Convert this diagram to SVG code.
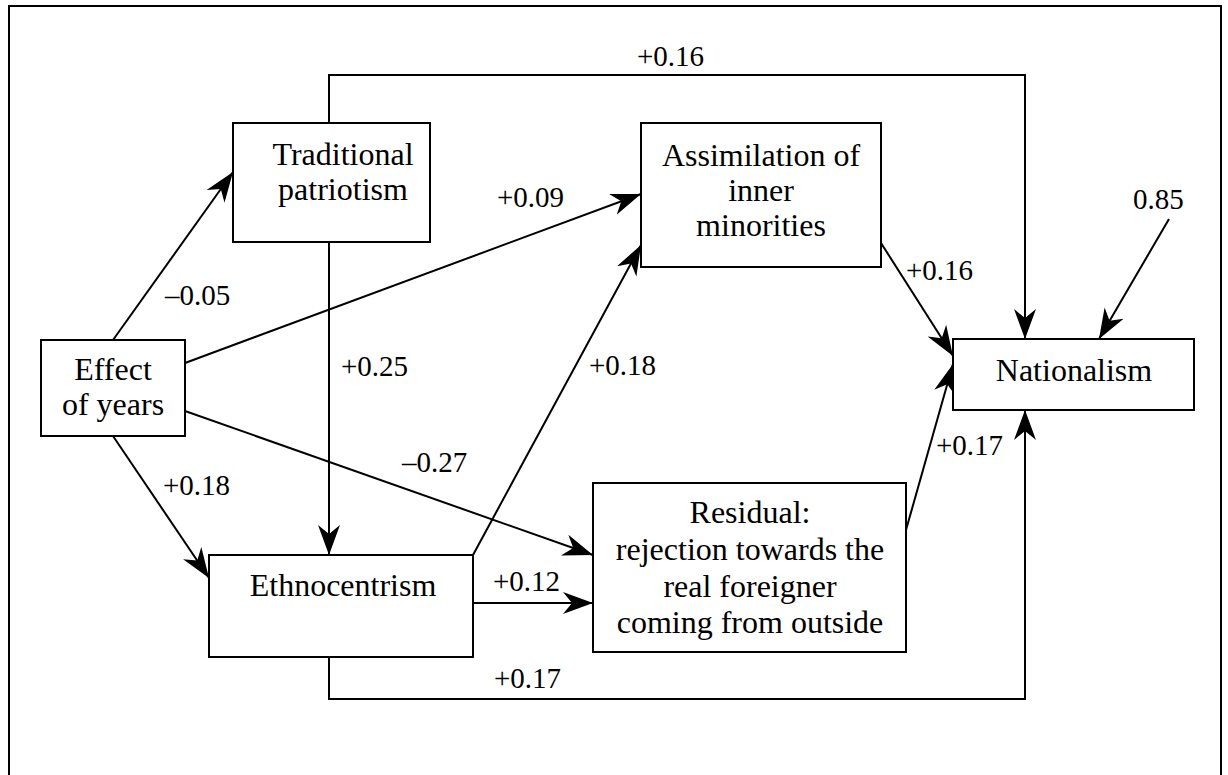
<svg xmlns="http://www.w3.org/2000/svg" width="1228" height="775" viewBox="0 0 1228 775">
<defs>
<marker id="ah" markerUnits="userSpaceOnUse" markerWidth="34" markerHeight="26" refX="30" refY="11" orient="auto" viewBox="0 0 34 22">
<path d="M30,11 L0,0 L9,11 L0,22 Z" fill="#000"/>
</marker>
<style>
.box{fill:#fff;stroke:#000;stroke-width:2}
text{font-family:'Liberation Serif','Times New Roman',serif;fill:#000}
.t{font-size:32px;text-anchor:middle}
.l{font-size:29px}
.c{fill:none;stroke:#000;stroke-width:2;marker-end:url(#ah)}
</style>
</defs>
<rect width="1228" height="775" fill="#fff"/>
<path d="M9,780 V6 H1221 V780" fill="none" stroke="#000" stroke-width="2"/>
<g id="connectors">
<line class="c" x1="113" y1="340" x2="233" y2="172"/>
<line class="c" x1="185" y1="363" x2="641" y2="194"/>
<line class="c" x1="185" y1="411" x2="593" y2="555"/>
<line class="c" x1="113" y1="436" x2="209" y2="578"/>
<line class="c" x1="329" y1="242" x2="329" y2="555"/>
<polyline class="c" points="329,123 329,75 1025,75 1025,339"/>
<line class="c" x1="473" y1="555" x2="641" y2="245"/>
<line class="c" x1="473" y1="603" x2="593" y2="603"/>
<polyline class="c" points="329,657 329,699 1025,699 1025,410"/>
<line class="c" x1="881" y1="243" x2="953" y2="356"/>
<line class="c" x1="906" y1="530" x2="953" y2="364"/>
<line class="c" x1="1169" y1="219" x2="1099" y2="339"/>
</g>
<g id="labels">
<text class="l" x="637" y="66">+0.16</text>
<text class="l" x="165" y="305">–0.05</text>
<text class="l" x="497" y="207">+0.09</text>
<text class="l" x="341" y="376">+0.25</text>
<text class="l" x="589" y="375">+0.18</text>
<text class="l" x="163" y="495">+0.18</text>
<text class="l" x="402" y="472">–0.27</text>
<text class="l" x="493" y="591">+0.12</text>
<text class="l" x="906" y="280">+0.16</text>
<text class="l" x="936" y="455">+0.17</text>
<text class="l" x="494" y="688">+0.17</text>
<text class="l" x="1133" y="209">0.85</text>
</g>
<g id="traditional">
<rect class="box" x="233" y="123" width="197" height="119"/>
<text class="t" x="343" y="165">Traditional</text>
<text class="t" x="343" y="200">patriotism</text>
</g>
<g id="assimilation">
<rect class="box" x="641" y="123" width="240" height="144"/>
<text class="t" x="761" y="166">Assimilation of</text>
<text class="t" x="761" y="201">inner</text>
<text class="t" x="761" y="236">minorities</text>
</g>
<g id="effect">
<rect class="box" x="41" y="340" width="144" height="96"/>
<text class="t" x="113" y="380">Effect</text>
<text class="t" x="113" y="415">of years</text>
</g>
<g id="nationalism">
<rect class="box" x="953" y="339" width="241" height="71"/>
<text class="t" x="1074" y="381">Nationalism</text>
</g>
<g id="ethnocentrism">
<rect class="box" x="209" y="555" width="264" height="102"/>
<text class="t" x="343" y="596">Ethnocentrism</text>
</g>
<g id="residual">
<rect class="box" x="593" y="483" width="313" height="169"/>
<text class="t" x="750" y="523">Residual:</text>
<text class="t" x="750" y="560">rejection towards the</text>
<text class="t" x="750" y="597">real foreigner</text>
<text class="t" x="750" y="633">coming from outside</text>
</g>
</svg>
